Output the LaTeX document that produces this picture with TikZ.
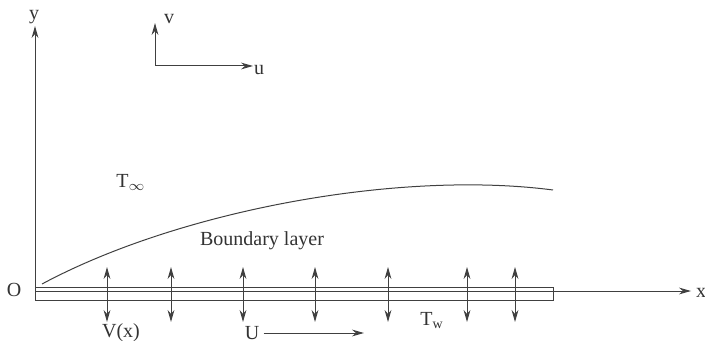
\documentclass[tikz,border=0pt]{standalone}
\usepackage{fontspec}
\setmainfont{Liberation Serif}
\usetikzlibrary{arrows.meta}
\newcommand{\suction}[2]{\coordinate (up#1) at (#2,267); \coordinate (dn#1) at (#2,322); \draw[both] (up#1) -- (dn#1);}

\begin{document}
\begin{tikzpicture}[x=0.5pt,y=-0.5pt,line width=0.5pt,draw=black!75,
    tip/.style={-{Stealth[length=6pt,width=3.4pt]}},
    both/.style={{Stealth[length=6pt,width=3.4pt]}-{Stealth[length=6pt,width=3.4pt]}},
    lbl/.style={inner sep=0pt,text=black!80,font=\fontsize{10}{12}\selectfont}]
    \useasboundingbox (0,0) rectangle (705,341);
    % axes
    \coordinate (O) at (35,291);
    \coordinate (ytop) at (35,26);
    \coordinate (xend) at (691,291);
    \draw[tip] (O) -- (ytop);
    \draw[tip] (O) -- (xend);
    \node[lbl] (ylab) at (34,17) {y};
    \node[lbl] (xlab) at (701,293) {x};
    \node[lbl] (olab) at (14,290) {O};
    % small axes
    \coordinate (corner) at (155,66);
    \coordinate (vtop) at (155,23);
    \coordinate (uend) at (253,66);
    \draw[tip] (corner) -- (vtop);
    \draw[tip] (corner) -- (uend);
    \node[lbl] (vlab) at (169,19) {v};
    \node[lbl] (ulab) at (259,70) {u};
    % plate
    \draw (35,287) rectangle (553,300);
    % boundary layer edge
    \draw (42,284) .. controls (180,210) and (400,170) .. (553,190);
    \node[lbl] (tinf) at (131,182) {T$_\infty$};
    \node[lbl] (bl) at (262,241) {Boundary layer};
    % suction arrows
    \suction{1}{107}
    \suction{2}{171}
    \suction{3}{243}
    \suction{4}{315}
    \suction{5}{388}
    \suction{6}{467}
    \suction{7}{515}
    % labels below plate
    \node[lbl] (vx) at (121,333) {V(x)};
    \node[lbl] (ulbl) at (252,333) {U};
    \coordinate (uarr) at (364,333);
    \draw[tip] (ulbl.east) ++(4,0) coordinate (ustart) (ustart) -- (uarr);
    \node[lbl] (tw) at (432,321) {T$_\mathrm{w}$};
\end{tikzpicture}
\end{document}
